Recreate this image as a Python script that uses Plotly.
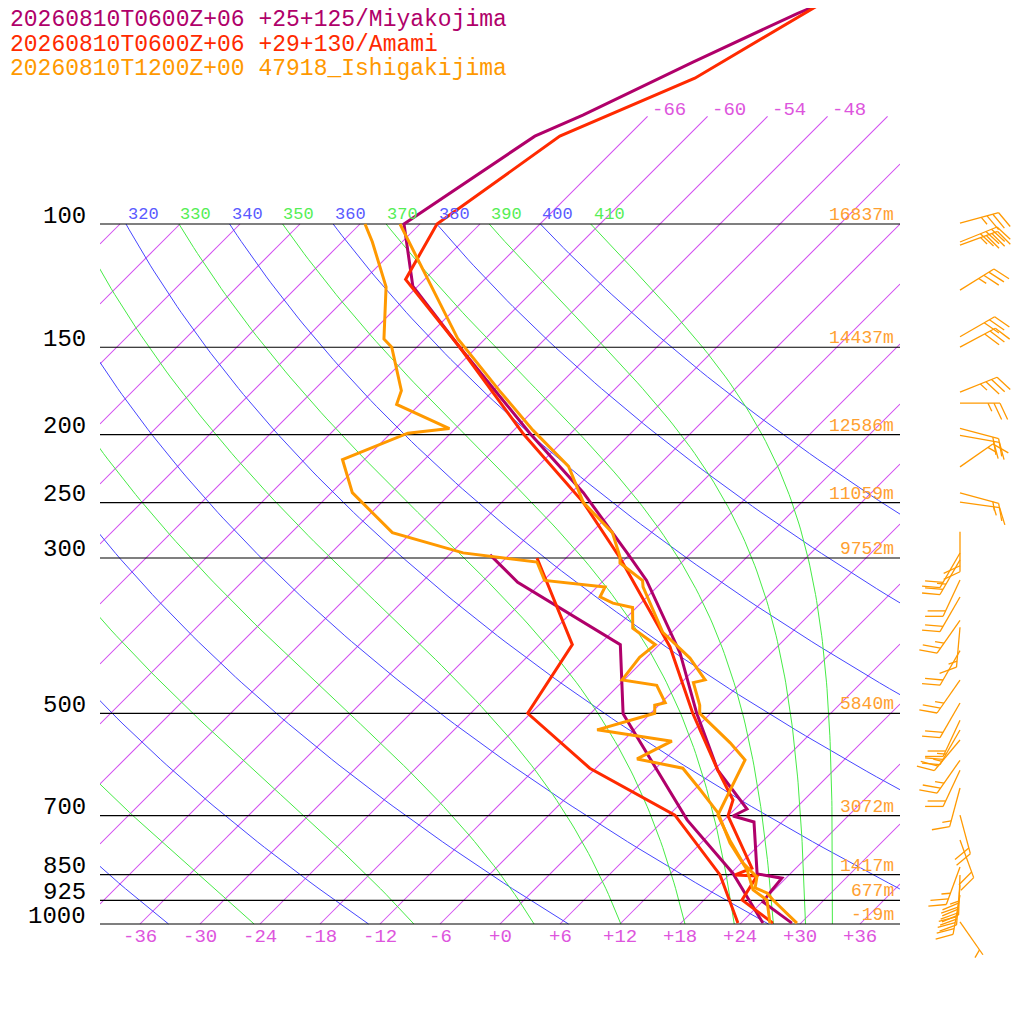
import numpy as np
import plotly.graph_objects as go

# ---------------- data ----------------
miy_t_p = [47.9, 50.0, 58.7, 69.9, 74.9, 100, 122.7, 150, 199, 242, 295, 323, 410, 500, 603, 685, 701, 715, 848, 860, 894, 930, 997]
miy_t_t = [-59.4, -61.3, -66.9, -72.6, -75.3, -79.6, -72.5, -61.7, -46.1, -34.8, -24.4, -19.7, -9.1, -1.4, 6.4, 13.2, 12.5, 15.2, 20.7, 23.6, 23.8, 24.1, 29.1]
miy_d_p = [297, 325, 399, 501, 710, 846, 997]
miy_d_t = [-37.9, -32.4, -15.9, -8.7, 8.3, 18.2, 26.2]

ama_t_p = [47.9, 49.8, 61.9, 74.9, 100, 120, 150, 199, 250, 300, 402, 500, 603, 665, 701, 832, 851, 854, 924, 997]
ama_t_t = [-59.7, -60.5, -65.1, -72.8, -76.3, -73.9, -61.7, -46.8, -33.8, -24.6, -10.7, -1.8, 6.4, 10.9, 12.0, 19.6, 18.6, 20.9, 21.8, 27.2]
ama_d_p = [300, 399, 500, 599, 699, 851, 997]
ama_d_t = [-32.9, -20.7, -18.3, -6.6, 6.6, 17.1, 23.7]

ish_t_p = [100, 146, 173, 197, 222, 250, 276, 299, 305, 323, 330, 383, 417, 448, 452, 487, 500, 528, 551, 583, 699, 759, 818, 857, 888, 903, 924, 997]
ish_t_t = [-80.0, -62.7, -53.4, -46.1, -38.9, -33.8, -27.9, -24.7, -24.1, -20.1, -19.4, -12.9, -7.6, -3.9, -4.8, -1.9, -1.1, 2.3, 4.9, 8.1, 10.9, 14.6, 18.2, 21.0, 21.9, 23.6, 24.9, 29.6]
ish_d_p = [100, 106, 123, 146, 150, 173, 181, 196, 199, 217, 242, 276, 295, 304, 323, 330, 341, 348, 353, 378, 399, 416, 448, 456, 483, 487, 500, 528, 548, 581, 599, 643, 694, 766, 837, 894, 924, 997]
ish_d_t = [-83.5, -81.0, -75.1, -70.1, -68.5, -63.2, -62.3, -54.6, -58.3, -62.2, -57.9, -49.9, -40.8, -32.5, -29.9, -23.2, -22.7, -20.8, -18.4, -16.3, -12.4, -12.7, -12.2, -8.2, -5.6, -6.4, -5.6, -9.7, -1.1, -2.8, 2.7, 6.6, 10.7, 14.9, 19.3, 21.9, 24.3, 26.9]

# wind barbs (Ishigakijima): pressure (hPa), staff direction (deg), speed (kt)
barb_p = [99.7, 106.1, 107.2, 124.3, 144.9, 149.9, 173.9, 180.3, 195.8, 200.4, 222.3, 242.2, 249.6,
          275.2, 295.1, 301.9, 322.6, 341.1, 368.2, 376.8, 406.8, 448.5, 483.4, 511.5, 528.2, 546.0,
          583.6, 602.9, 639.3, 698.8, 758.6, 828.8, 851.0, 879.9, 909.3, 993.4]
barb_dir = [75, 68, 70, 58, 60, 62, 68, 90, 105, 100, 55, 105, 98,
            180, 210, 210, 205, 210, 215, 185, 210, 215, 210, 205, 210, 220,
            215, 205, 195, 165, 160, 200, 182, 185, 190, 145]
barb_spd = [35, 40, 35, 35, 30, 30, 35, 25, 20, 20, 15, 15, 15,
            20, 20, 25, 20, 20, 25, 15, 20, 25, 20, 20, 25, 25,
            25, 20, 15, 20, 20, 25, 30, 45, 40, 5]

p_levels = [100, 150, 200, 250, 300, 500, 700, 850, 925, 1000]
heights = ["16837m", "14437m", "12586m", "11059m", "9752m", "5840m", "3072m", "1417m", "677m", "-19m"]
t_ticks = list(range(-36, 37, 6))
iso_temps = list(range(-108, 37, 6))
iso_labelled = [-66, -60, -54, -48]
dry_thetas = list(range(240, 401, 20))
moist_thetas = list(range(250, 411, 20))
legend_lines = ["20260810T0600Z+06 +25+125/Miyakojima",
                "20260810T0600Z+06 +29+130/Amami",
                "20260810T1200Z+00 47918_Ishigakijima"]

C_MIY, C_AMA, C_ISH = "#b0006a", "#ff2a00", "#ff9900"
C_ISO, C_DRY, C_MOIST = "#d24ff0", "#4646ff", "#46eb46"
FONT = "Liberation Mono"

PW = 932.0   # plot area width in px (x = 100 .. 1032)
PH = 956.0   # plot area height in px (y = 8 .. 964)
YBOT = -4.0  # axis value at the plot-area bottom (1000 hPa is at 0)

def Y(p):
    return 70 * np.log10(1000 / np.asarray(p, float))

def X(t, p):
    return np.asarray(t, float) + Y(p)

fig = go.Figure()

def line(xs, ys, color, w, xa="x"):
    fig.add_trace(go.Scatter(x=xs, y=ys, mode="lines", line=dict(color=color, width=w),
                             hoverinfo="skip", showlegend=False, xaxis=xa, yaxis="y"))

xs, ys = [], []
for t in iso_temps:
    ptop = 70.2 if t >= -66 else 100
    ytop = float(Y(ptop))
    y0 = max(0.0, -40 - t)
    y1 = min(ytop, 40 - t)
    if y1 <= y0:
        continue
    yy = np.linspace(y0, y1, 12)
    xs += list(map(float, t + yy)) + [None]; ys += list(map(float, yy)) + [None]
line(xs, ys, C_ISO, 1.05)

pp = np.geomspace(1000, 100, 120)
xs, ys = [], []
for th in dry_thetas:
    T = th * (pp / 1000) ** 0.2857 - 273.15
    xs += list(map(float, X(T, pp))) + [None]; ys += list(map(float, Y(pp))) + [None]
line(xs, ys, C_DRY, 1)

def theta_e(Tk, p):
    tc = Tk - 273.15
    es = 6.112 * np.exp(17.67 * tc / (tc + 243.5))
    r = 0.622 * es / (p - es)
    return Tk * (1000 / p) ** (0.2854 * (1 - 0.28 * r)) * np.exp((3.376 / Tk - 0.00254) * r * 1000 * (1 + 0.81 * r))

xs, ys = [], []
for the in moist_thetas:
    lo = np.full_like(pp, 150.0); hi = np.full_like(pp, 320.0)
    for _ in range(60):
        mid = 0.5 * (lo + hi)
        f = theta_e(mid, pp) > the
        hi = np.where(f, mid, hi); lo = np.where(f, lo, mid)
    T = 0.5 * (lo + hi) - 273.15
    xs += list(map(float, X(T, pp))) + [None]; ys += list(map(float, Y(pp))) + [None]
line(xs, ys, C_MOIST, 1)

xs, ys = [], []
for p in p_levels:
    xs += [-40, 40, None]; ys += [float(Y(p)), float(Y(p)), None]
line(xs, ys, "black", 1.2)

for tp, tt, dp, dt, c in [(miy_t_p, miy_t_t, miy_d_p, miy_d_t, C_MIY),
                          (ama_t_p, ama_t_t, ama_d_p, ama_d_t, C_AMA),
                          (ish_t_p, ish_t_t, ish_d_p, ish_d_t, C_ISH)]:
    line(X(tt, tp), Y(tp), c, 3)
    line(X(dt, dp), Y(dp), c, 3)

# wind barbs on x2 (pixels) / y (units of 10 px)
xs, ys = [], []
L, BL, SP = 40, 18, 6
for p, d, s in zip(barb_p, barb_dir, barb_spd):
    a = np.radians(d)
    bx, by = 960.0, float(Y(p))
    ux, uy = np.sin(a), np.cos(a)
    tx, ty = bx + L * ux, by + L * uy / 10
    xs += [bx, tx, None]; ys += [by, ty, None]
    b = np.radians(d + 65)
    vx, vy = np.sin(b), np.cos(b)
    n_full, half = s // 10, (s % 10) >= 5
    k = 0
    for i in range(n_full):
        sx, sy = tx - k * SP * ux, ty - k * SP * uy / 10
        xs += [sx, sx + BL * vx, None]; ys += [sy, sy + BL * vy / 10, None]
        k += 1
    if half:
        if k == 0:
            k = 1
        sx, sy = tx - k * SP * ux, ty - k * SP * uy / 10
        xs += [sx, sx + BL / 2 * vx, None]; ys += [sy, sy + BL / 2 * vy / 10, None]
line(xs, ys, C_ISH, 1.3, xa="x2")

def px_x(px):
    return (px - 100) / PW

def px_y(py):
    return (964 - py) / PH

ann = []
for p in p_levels:
    ann.append(dict(x=px_x(88), xref="paper", y=float(Y(p)), yref="y", text=str(p), showarrow=False,
                    xanchor="right", yanchor="middle", yshift=8, font=dict(family=FONT, size=24, color="black")))
for p, h in zip(p_levels, heights):
    ann.append(dict(x=39.6, xref="x", y=float(Y(p)), yref="y", text=h, showarrow=False,
                    xanchor="right", yanchor="bottom", yshift=-3, font=dict(family=FONT, size=18, color="#ffa030")))
for t in t_ticks:
    ann.append(dict(x=t, xref="x", y=px_y(937), yref="paper", text=("+%d" % t if t >= 0 else "%d" % t),
                    showarrow=False, xanchor="center", yanchor="middle",
                    font=dict(family=FONT, size=19, color="#dd55dd")))
for t in iso_labelled:
    ann.append(dict(x=float(X(t, 70.2)) + 0.2, xref="x", y=float(Y(70.2)) + 0.6, yref="y", text=str(t),
                    showarrow=False, xanchor="left", yanchor="middle",
                    font=dict(family=FONT, size=19, color="#dd55dd")))
for th in dry_thetas:
    xx = th * 0.1 ** 0.2857 - 273.15 + 70
    if xx >= -40:
        ann.append(dict(x=xx, xref="x", y=70, yref="y", text=str(th), showarrow=False, xanchor="left",
                        yanchor="bottom", yshift=-2, font=dict(family=FONT, size=17, color="#5a5aff")))
for th in moist_thetas:
    xx = th * 0.1 ** 0.2857 - 273.15 + 70
    if xx >= -40:
        ann.append(dict(x=xx, xref="x", y=70, yref="y", text=str(th), showarrow=False, xanchor="left",
                        yanchor="bottom", yshift=-2, font=dict(family=FONT, size=17, color="#55ee55")))
ann.append(dict(x=-40.3, xref="x", y=70, yref="y", text="0", showarrow=False, xanchor="left",
                yanchor="bottom", yshift=-2, font=dict(family=FONT, size=17, color="#55ee55")))
for i, (txt, c) in enumerate(zip(legend_lines, [C_MIY, C_AMA, C_ISH])):
    ann.append(dict(x=px_x(8), xref="paper", y=px_y(20 + 24.5 * i), yref="paper", text=txt, showarrow=False,
                    xanchor="left", yanchor="middle", font=dict(family=FONT, size=23, color=c)))

fig.update_layout(
    width=1024, height=1024, margin=dict(l=92, r=0, t=0, b=1024 - PH, pad=0),
    paper_bgcolor="white", plot_bgcolor="white", showlegend=False, annotations=ann,
    xaxis=dict(domain=[0, 800 / PW], range=[-40, 40], visible=False),
    xaxis2=dict(domain=[800 / PW, 1], range=[900, 1032], visible=False, anchor="y"),
    yaxis=dict(range=[YBOT, YBOT + PH / 10.0], visible=False),
)
fig.write_html("out.html")
